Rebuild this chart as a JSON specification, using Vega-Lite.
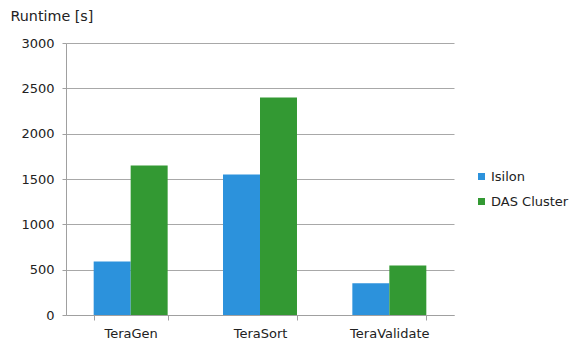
{
  "$schema": "https://vega.github.io/schema/vega-lite/v6.json",
  "width": 388,
  "height": 272,
  "autosize": {"type": "none"},
  "padding": {"left": 66, "top": 43, "right": 133, "bottom": 39},
  "background": "white",
  "config": {
    "font": "DejaVu Sans",
    "view": {"stroke": null},
    "axis": {"labelFont": "DejaVu Sans", "labelColor": "#222222", "labelFontSize": 13, "titleFont": "DejaVu Sans"}
  },
  "data": {
    "values": [
      {"job": "TeraGen", "system": "Isilon", "runtime": 590},
      {"job": "TeraGen", "system": "DAS Cluster", "runtime": 1650},
      {"job": "TeraSort", "system": "Isilon", "runtime": 1550},
      {"job": "TeraSort", "system": "DAS Cluster", "runtime": 2400},
      {"job": "TeraValidate", "system": "Isilon", "runtime": 350},
      {"job": "TeraValidate", "system": "DAS Cluster", "runtime": 545}
    ]
  },
  "mark": {"type": "bar"},
  "encoding": {
    "x": {
      "field": "job",
      "type": "nominal",
      "sort": ["TeraGen", "TeraSort", "TeraValidate"],
      "scale": {"paddingInner": 0.428, "paddingOuter": 0.214},
      "axis": {
        "title": null,
        "labelAngle": 0,
        "labelPadding": 7,
        "tickBand": "extent",
        "tickSize": 5,
        "tickColor": "#a0a0a0",
        "domainColor": "#a0a0a0",
        "labelFontSize": 13
      }
    },
    "xOffset": {
      "field": "system",
      "type": "nominal",
      "sort": ["Isilon", "DAS Cluster"],
      "scale": {"paddingInner": 0, "paddingOuter": 0}
    },
    "y": {
      "field": "runtime",
      "type": "quantitative",
      "scale": {"domain": [0, 3000], "nice": false},
      "axis": {
        "values": [0, 500, 1000, 1500, 2000, 2500, 3000],
        "format": "d",
        "title": "Runtime [s]",
        "titleAngle": 0,
        "titleAlign": "left",
        "titleBaseline": "alphabetic",
        "titleX": -56,
        "titleY": -23,
        "titleFontSize": 14.3,
        "titleFontWeight": "normal",
        "titleColor": "#222222",
        "grid": true,
        "gridColor": "#a8a8a8",
        "tickSize": 4,
        "tickColor": "#a0a0a0",
        "domainColor": "#a0a0a0",
        "labelPadding": 8,
        "labelFontSize": 13
      }
    },
    "color": {
      "field": "system",
      "type": "nominal",
      "sort": ["Isilon", "DAS Cluster"],
      "scale": {"domain": ["Isilon", "DAS Cluster"], "range": ["#2C92DC", "#339933"]},
      "legend": {
        "title": null,
        "orient": "none",
        "legendX": 409,
        "legendY": 127,
        "symbolType": "square",
        "symbolSize": 49,
        "symbolStrokeWidth": 0,
        "labelFont": "DejaVu Sans",
        "labelFontSize": 13,
        "labelColor": "#222222",
        "labelOffset": 3,
        "rowPadding": 11
      }
    }
  }
}
